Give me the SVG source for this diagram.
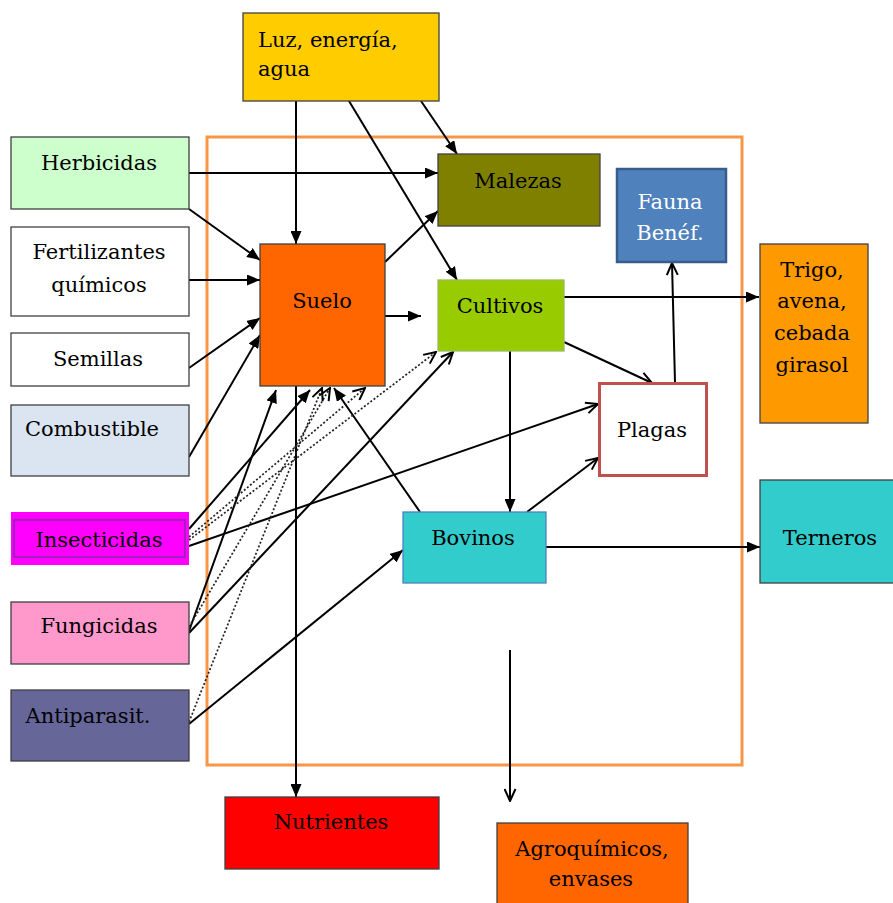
<svg xmlns="http://www.w3.org/2000/svg" width="893" height="903" viewBox="0 0 893 903">
<style>
text{font-family:"DejaVu Serif","Liberation Serif",serif;font-size:21px;fill:#000;text-anchor:middle}
.box{stroke:#404040;stroke-width:1.3}
.c{fill:none;stroke:#000;stroke-width:2}
.d{fill:none;stroke:#222;stroke-width:1.7;stroke-dasharray:2 2}
.f{marker-end:url(#af)}
.o{marker-end:url(#ao)}
</style>
<defs>
<marker id="af" markerUnits="userSpaceOnUse" markerWidth="13" markerHeight="11" refX="13" refY="5.5" orient="auto">
<path d="M0,0 L13,5.5 L0,11 z" fill="#000"/>
</marker>
<marker id="ao" markerUnits="userSpaceOnUse" markerWidth="14" markerHeight="13" refX="13" refY="6.5" orient="auto">
<path d="M1,1 L13,6.5 L1,12" fill="none" stroke="#000" stroke-width="2"/>
</marker>
</defs>
<rect width="893" height="903" fill="#fff"/>
<rect id="frame" x="207" y="137" width="535" height="628" fill="none" stroke="#f79646" stroke-width="3"/>
<g id="connectors">
<path class="c f" d="M296,101 V244"/>
<path class="c f" d="M349,101 L457,280"/>
<path class="c f" d="M421,101 L457,154"/>
<path class="c f" d="M189,173 H438"/>
<path class="c f" d="M189,209 L260,260"/>
<path class="c f" d="M189,280 H260"/>
<path class="c f" d="M189,368 L260,318"/>
<path class="c f" d="M189,457 L260,335"/>
<path class="c f" d="M385,262 L438,211"/>
<path class="c f" d="M385,316 H421"/>
<path class="c f" d="M564,297 H759"/>
<path class="c o" d="M564,342 L652,383"/>
<path class="c o" d="M675,383 L672,263"/>
<path class="c f" d="M510,351 V512"/>
<path class="c o" d="M527,512 L598,458"/>
<path class="c f" d="M546,547 H760"/>
<path class="c f" d="M420,512 L334,388"/>
<path class="c o" d="M189,546 L598,404"/>
<path class="c f" d="M296,386 V797"/>
<path class="c o" d="M510,650 V801"/>
<path class="c f" d="M189,724 L403,550"/>
<path class="c f" d="M189,529 L310,390"/>
<path class="c f" d="M189,631 L276,390"/>
<path class="c o" d="M189,633 L453,352"/>
<path class="d o" d="M189,537 L365,388"/>
<path class="d o" d="M189,540 L436,352"/>
<path class="d o" d="M189,627 L330,388"/>
<path class="d o" d="M189,722 L322,388"/>
</g>
<g id="luz"><rect class="box" x="243" y="13" width="196" height="88" fill="#ffcc00" stroke="#8a7430"/><text x="258" y="47" style="text-anchor:start">Luz, energía,</text><text x="258" y="76" style="text-anchor:start">agua</text></g>
<g id="herbicidas"><rect class="box" x="11" y="137" width="178" height="72" fill="#ccffcc"/><text x="99" y="170">Herbicidas</text></g>
<g id="fertilizantes"><rect class="box" x="11" y="227" width="178" height="89" fill="#fff" stroke="#fac08f"/><text x="99" y="259">Fertilizantes</text><text x="99" y="292">químicos</text></g>
<g id="semillas"><rect class="box" x="11" y="333" width="178" height="53" fill="#fff" stroke="#c4d879"/><text x="98" y="366">Semillas</text></g>
<g id="combustible"><rect class="box" x="11" y="405" width="178" height="71" fill="#dbe5f1"/><text x="92" y="436">Combustible</text></g>
<g id="insecticidas"><rect x="11" y="512" width="178" height="53" fill="#ff00ff"/><rect x="14" y="520" width="171" height="37" fill="none" stroke="#7030a0" stroke-width="1.3"/><text x="99" y="547">Insecticidas</text></g>
<g id="fungicidas"><rect class="box" x="11" y="602" width="178" height="62" fill="#ff99cc"/><text x="99" y="633">Fungicidas</text></g>
<g id="antiparasit"><rect class="box" x="11" y="690" width="178" height="71" fill="#666699"/><text x="88" y="723">Antiparasit.</text></g>
<g id="suelo"><rect class="box" x="260" y="244" width="125" height="142" fill="#ff6600" stroke="#333"/><text x="322" y="308">Suelo</text></g>
<g id="malezas"><rect class="box" x="438" y="154" width="162" height="72" fill="#808000" stroke="#505020"/><text x="518" y="188">Malezas</text></g>
<g id="fauna"><rect x="617" y="169" width="109" height="93" fill="#4f81bd" stroke="#385d8a" stroke-width="2.5"/><text x="670" y="209" style="fill:#fff">Fauna</text><text x="670" y="240" style="fill:#fff">Benéf.</text></g>
<g id="cultivos"><rect x="438" y="280" width="126" height="71" fill="#99cc00" stroke="#9bbb59" stroke-width="1.3"/><text x="500" y="313">Cultivos</text></g>
<g id="trigo"><rect class="box" x="760" y="244" width="108" height="179" fill="#ff9900" stroke="#5a3a10"/><text x="812" y="277">Trigo,</text><text x="812" y="308">avena,</text><text x="812" y="340">cebada</text><text x="812" y="372">girasol</text></g>
<g id="plagas"><rect x="599.5" y="383.5" width="107" height="92" fill="#fff" stroke="#c0504d" stroke-width="3"/><text x="652" y="437">Plagas</text></g>
<g id="bovinos"><rect x="403" y="512" width="143" height="71" fill="#33cccc" stroke="#4f81bd" stroke-width="1.3"/><text x="473" y="545">Bovinos</text></g>
<g id="terneros"><rect class="box" x="760" y="480" width="134" height="103" fill="#33cccc" stroke="#3a5050"/><text x="830" y="545">Terneros</text></g>
<g id="nutrientes"><rect class="box" x="225" y="797" width="214" height="72" fill="#ff0000" stroke="#333"/><text x="331" y="829">Nutrientes</text></g>
<g id="agroquimicos"><rect class="box" x="497" y="823" width="191" height="86" fill="#ff6600" stroke="#333"/><text x="592" y="856">Agroquímicos,</text><text x="591" y="886">envases</text></g>
</svg>
